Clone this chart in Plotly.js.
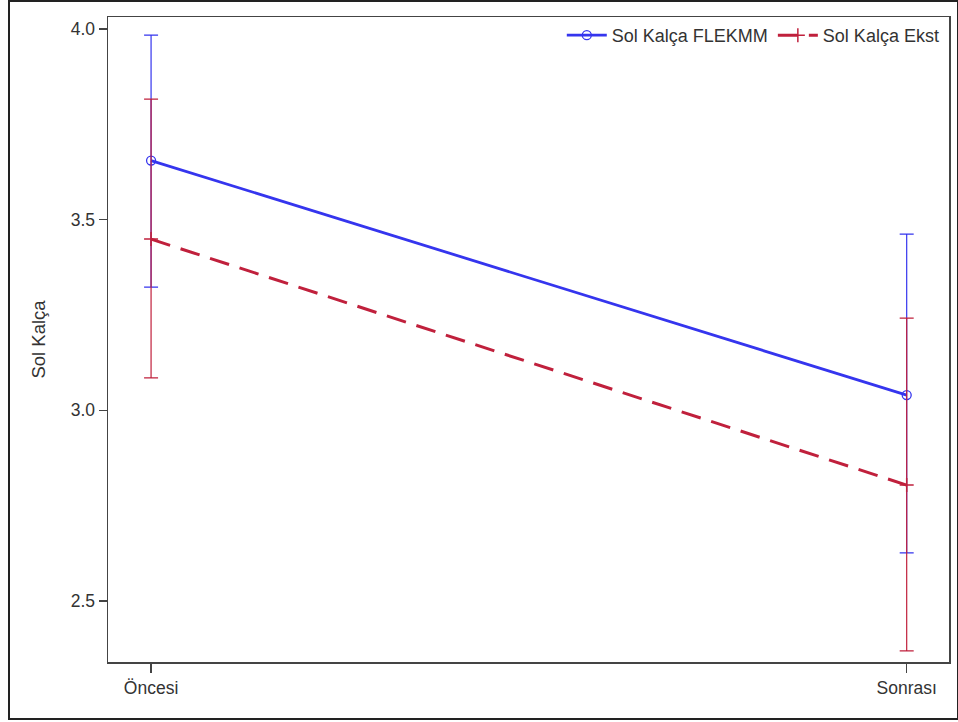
<!DOCTYPE html>
<html>
<head>
<meta charset="utf-8">
<script src="https://cdn.plot.ly/plotly-3.0.1.min.js"></script>
<style>
  html, body { margin: 0; padding: 0; background: #fff; }
  #wrap { position: relative; width: 958px; height: 722px; }
  #chart { position: absolute; left: 0; top: 0; width: 958px; height: 722px; }
  #frame { position: absolute; left: 8px; top: 0px; width: 947px; height: 716px;
           border: 2px solid #222; pointer-events: none; }
</style>
</head>
<body>
<div id="wrap">
  <div id="chart"></div>
  <div id="frame"></div>
</div>
<script>
// Time points
const timepoints = ['Öncesi', 'Sonrası'];

// Sol Kalça FLEKMM: means and confidence limits
const flekMean  = [3.655, 3.040];
const flekUpper = [3.984, 3.462];
const flekLower = [3.323, 2.626];

// Sol Kalça Ekst: means and confidence limits
const ekstMean  = [3.449, 2.804];
const ekstUpper = [3.816, 3.242];
const ekstLower = [3.085, 2.369];

const yTicks = [2.5, 3.0, 3.5, 4.0];
const yTickText = ['2.5', '3.0', '3.5', '4.0'];

const blue = '#3535ee';
const red = '#c0203c';

const plus  = (m, u) => u.map((v, i) => v - m[i]);
const minus = (m, l) => l.map((v, i) => m[i] - v);

const traces = [
  {
    name: 'Sol Kalça FLEKMM',
    x: timepoints, y: flekMean,
    type: 'scatter', mode: 'lines+markers',
    line: { color: blue, width: 2.8 },
    marker: { symbol: 'circle-open', size: 9, color: blue, line: { width: 1.3, color: blue } },
    error_y: { type: 'data', symmetric: false,
               array: plus(flekMean, flekUpper), arrayminus: minus(flekMean, flekLower),
               color: blue, thickness: 1.2, width: 7 }
  },
  {
    name: 'Sol Kalça Ekst',
    x: timepoints, y: ekstMean,
    type: 'scatter', mode: 'lines+markers',
    line: { color: red, width: 3, dash: '20px,11px' },
    marker: { symbol: 'cross-thin-open', size: 10, color: red, line: { width: 1.5, color: red } },
    error_y: { type: 'data', symmetric: false,
               array: plus(ekstMean, ekstUpper), arrayminus: minus(ekstMean, ekstLower),
               color: red, thickness: 1.2, width: 7 }
  }
];

const tickFont = { family: 'Liberation Sans, Arial, sans-serif', size: 17.5, color: '#333' };
const labelFont = { family: 'Liberation Sans, Arial, sans-serif', size: 18.5, color: '#333' };
const legendFont = { family: 'Liberation Sans, Arial, sans-serif', size: 18, color: '#333' };

const layout = {
  width: 958, height: 722,
  margin: { l: 108, r: 9, t: 17, b: 60 },
  paper_bgcolor: '#fff', plot_bgcolor: '#fff',
  font: tickFont,
  showlegend: true,
  legend: {
    orientation: 'h', x: 0.995, xanchor: 'right', y: 1.0, yanchor: 'top',
    bgcolor: 'rgba(0,0,0,0)', font: legendFont, itemwidth: 40, traceorder: 'normal'
  },
  xaxis: {
    type: 'category', range: [-0.057, 1.056],
    showline: true, mirror: true, linecolor: '#444', linewidth: 1.5,
    ticks: 'outside', ticklen: 9, tickwidth: 1.5, tickcolor: '#444',
    showgrid: false, zeroline: false, tickfont: tickFont
  },
  yaxis: {
    range: [2.34, 4.0315],
    tickvals: yTicks, ticktext: yTickText,
    showline: true, mirror: true, linecolor: '#444', linewidth: 1.5,
    ticks: 'outside', ticklen: 8, tickwidth: 1.5, tickcolor: '#444',
    showgrid: false, zeroline: false, tickfont: tickFont,
    title: { text: 'Sol Kalça', font: labelFont, standoff: 20 }
  }
};

Plotly.newPlot('chart', traces, layout, { displayModeBar: false, staticPlot: true });
</script>
</body>
</html>
